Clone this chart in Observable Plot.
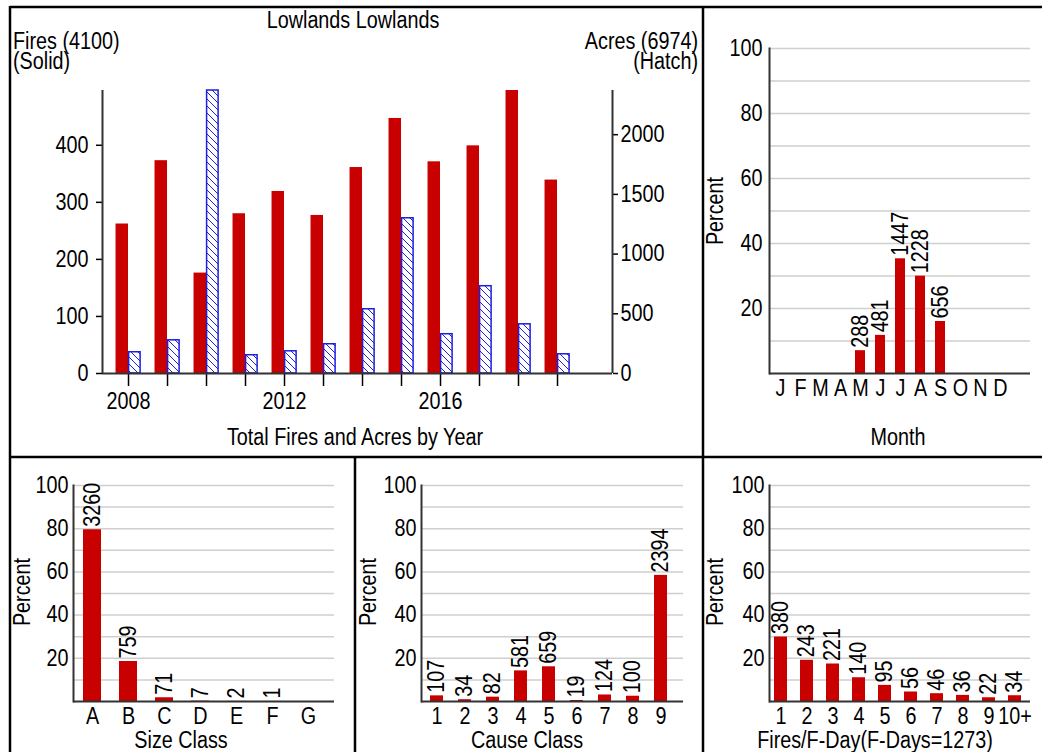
<!DOCTYPE html>
<html><head><meta charset="utf-8">
<script src="https://cdn.jsdelivr.net/npm/d3@7"></script>
<script src="https://cdn.jsdelivr.net/npm/@observablehq/plot@0.6"></script>
<style>
body{margin:0;background:#fff;}
#wrap{position:relative;width:1042px;height:752px;overflow:hidden;background:#fff;}
#wrap svg{position:absolute;overflow:visible;}
</style></head><body><div id="wrap"></div>
<script>
// ---------- data ----------
const years = [2008,2009,2010,2011,2012,2013,2014,2015,2016,2017,2018,2019];
const fires = [262,373,176,280,319,277,361,447,371,399,496,339];
const acres = [178,278,2370,153,186,245,538,1300,329,731,412,161];
const totalFires = 4100;
const totalAcres = 6974;
const fireTicks = [0,100,200,300,400];
const acreTicks = [0,500,1000,1500,2000];
const yearLabels = [2008,2012,2016];

const months = ["J","F","M","A","M","J","J","A","S","O","N","D"];
const monthFires = [0,0,0,0,288,481,1447,1228,656,0,0,0];

const sizeClasses = ["A","B","C","D","E","F","G"];
const sizeFires = [3260,759,71,7,2,1,0];

const causeClasses = ["1","2","3","4","5","6","7","8","9"];
const causeFires = [107,34,82,581,659,19,124,100,2394];

const fdayClasses = ["1","2","3","4","5","6","7","8","9","10+"];
const fdayCounts = [380,243,221,140,95,56,46,36,22,34];
const fDays = 1273;

const pctTicks = [20,40,60,80,100];
const pctGrid = [10,20,30,40,50,60,70,80,90,100];

// ---------- style ----------
const RED = "#C80000";
const BLUE = "#1E1EE0";
const AX = "#333";
const FONT = "'Liberation Sans Narrow','Arial Narrow','Liberation Sans',Arial,sans-serif";
const FS = 23;
const NARROW = 0.86;
const wrap = document.getElementById("wrap");
const baseStyle = {fontFamily: FONT, fontSize: FS + "px", color: "#000", background: "transparent", overflow: "visible"};

function place(svg, left, top) {
  svg.style.left = left + "px";
  svg.style.top = top + "px";
  wrap.appendChild(svg);
}
// emulate a narrow (condensed) face by squeezing every text horizontally around its anchor
function len(v) {
  if (v == null) return 0;
  const n = parseFloat(v);
  if (isNaN(n)) return 0;
  return /em$/.test(v) ? n * FS : n;
}
function condense(root, s) {
  root.querySelectorAll("text").forEach(t => {
    const X = len(t.getAttribute("x"));
    const tr = t.getAttribute("transform") || "";
    t.setAttribute("transform", `${tr} translate(${X},0) scale(${s},1) translate(${-X},0)`.trim());
  });
}

// ---------- top-left: fires & acres by year ----------
{
  const fMax = d3.max(fires), aMax = d3.max(acres), k = fMax / aMax;
  const xDom = [2007.333, 2020.41];
  const data = years.map((y, i) => ({year: y, fires: fires[i], acres: acres[i]}));
  const svg = Plot.plot({
    width: 693, height: 450,
    marginLeft: 92, marginRight: 91, marginTop: 83, marginBottom: 84,
    style: baseStyle,
    x: {domain: xDom},
    y: {domain: [0, fMax]},
    marks: [
      Plot.rectY(data, {x1: d => d.year - 0.32, x2: d => d.year, y1: 0, y2: "fires", fill: RED}),
      Plot.rectY(data, {x1: d => d.year + 0.015, x2: d => d.year + 0.31, y1: 0, y2: d => d.acres * k,
        fill: "url(#hatch)", stroke: BLUE, strokeWidth: 1.5}),
      Plot.axisY({ticks: fireTicks, anchor: "left", tickSize: 6, tickPadding: 8, label: null, strokeWidth: 1.5}),
      Plot.axisY({ticks: acreTicks.map(a => a * k), tickFormat: v => String(Math.round(v / k)),
        anchor: "right", tickSize: 5, tickPadding: 3, label: null, strokeWidth: 1.5}),
      Plot.axisX({ticks: years, tickSize: 13, tickPadding: 6, label: null, strokeWidth: 1.5,
        tickFormat: d => yearLabels.includes(d) ? String(d) : ""}),
      Plot.ruleY([0], {stroke: AX, strokeWidth: 2}),
      Plot.ruleX([xDom[0], xDom[1]], {y1: 0, y2: fMax, stroke: AX, strokeWidth: 2})
    ]
  });
  const defs = d3.select(svg).insert("defs", ":first-child");
  const pat = defs.append("pattern").attr("id", "hatch").attr("patternUnits", "userSpaceOnUse")
    .attr("width", 7).attr("height", 7);
  pat.append("rect").attr("width", 7).attr("height", 7).attr("fill", "#fff");
  pat.append("path").attr("d", "M-1,-1L8,8M-1,6L1,8M6,-1L8,1").attr("stroke", BLUE).attr("stroke-width", 1);
  place(svg, 10, 7);
}

// ---------- percent panels ----------
function pctPanel(o) {
  const data = o.cats.map((c, i) => ({i, c, n: o.counts[i], p: o.counts[i] / o.total * 100}));
  const svg = Plot.plot({
    width: o.width, height: o.height,
    marginLeft: o.ml, marginRight: o.mr, marginTop: o.mt, marginBottom: o.mb,
    style: baseStyle,
    x: {type: "band", domain: data.map(d => d.i), paddingInner: o.pi, paddingOuter: o.po, align: o.align},
    y: {domain: [0, 100]},
    marks: [
      Plot.ruleY(pctGrid, {stroke: "#cfcfcf", strokeWidth: 1.5}),
      Plot.barY(data, {x: "i", y: "p", fill: RED}),
      Plot.text(data.filter(d => d.n > 0), {x: "i", y: "p", text: d => String(d.n), rotate: -90,
        textAnchor: "start", dy: -3, fontSize: FS}),
      Plot.axisY({ticks: pctTicks, tickSize: 0, tickPadding: o.tp, label: null}),
      Plot.axisX({tickSize: 0, tickPadding: 6, label: null, tickFormat: i => o.cats[i]}),
      Plot.frame({anchor: "left", stroke: AX, strokeWidth: 2}),
      Plot.ruleY([0], {stroke: AX, strokeWidth: 2})
    ]
  });
  place(svg, o.left, o.top);
}

pctPanel({cats: months, counts: monthFires, total: totalFires, left: 703, top: 7, width: 339, height: 450,
  ml: 66, mr: 12, mt: 41, mb: 84, pi: 0.52, po: 0.5, align: 0.19, tp: 7});
pctPanel({cats: sizeClasses, counts: sizeFires, total: totalFires, left: 10, top: 457, width: 345, height: 295,
  ml: 63, mr: 21, mt: 28, mb: 51, pi: 0.51, po: 0.31, align: 0.35, tp: 5});
pctPanel({cats: causeClasses, counts: causeFires, total: totalFires, left: 355, top: 457, width: 348, height: 295,
  ml: 66, mr: 20, mt: 28, mb: 51, pi: 0.54, po: 0.37, align: 0.36, tp: 5});
pctPanel({cats: fdayClasses, counts: fdayCounts, total: fDays, left: 703, top: 457, width: 339, height: 295,
  ml: 66, mr: 12, mt: 28, mb: 51, pi: 0.5, po: 0.25, align: 0.35, tp: 5});

// ---------- overlay: borders and titles ----------
const ov = d3.select(wrap).append("svg").attr("width", 1042).attr("height", 752)
  .style("left", "0px").style("top", "0px")
  .attr("font-family", FONT).attr("font-size", FS);
const lines = [
  [10, 7, 1042, 7], [10, 6, 10, 752], [703, 7, 703, 752], [10, 457, 1042, 457], [355, 457, 355, 752]
];
ov.selectAll("line").data(lines).join("line")
  .attr("x1", d => d[0]).attr("y1", d => d[1]).attr("x2", d => d[2]).attr("y2", d => d[3])
  .attr("stroke", "#000").attr("stroke-width", 2.5);
const texts = [
  {t: "Lowlands Lowlands", x: 353, y: 28, a: "middle"},
  {t: `Fires (${totalFires})`, x: 13, y: 49, a: "start"},
  {t: "(Solid)", x: 13, y: 69, a: "start"},
  {t: `Acres (${totalAcres})`, x: 698, y: 49, a: "end"},
  {t: "(Hatch)", x: 698, y: 69, a: "end"},
  {t: "Total Fires and Acres by Year", x: 355, y: 445, a: "middle"},
  {t: "Month", x: 898, y: 445, a: "middle"},
  {t: "Size Class", x: 181, y: 748, a: "middle"},
  {t: "Cause Class", x: 527, y: 748, a: "middle"},
  {t: `Fires/F-Day(F-Days=${fDays})`, x: 875, y: 748, a: "middle"}
];
ov.selectAll("text.t").data(texts).join("text").attr("class", "t")
  .attr("x", d => d.x).attr("y", d => d.y).attr("text-anchor", d => d.a).text(d => d.t);
const pcts = [[715, 211], [22, 592], [368, 592], [715, 592]];
ov.selectAll("text.p").data(pcts).join("text").attr("class", "p")
  .attr("transform", d => `translate(${d[0]},${d[1]}) rotate(-90)`)
  .attr("text-anchor", "middle").attr("dy", "0.35em").text("Percent");

wrap.querySelectorAll("svg").forEach(s => condense(s, NARROW));
</script></body></html>
